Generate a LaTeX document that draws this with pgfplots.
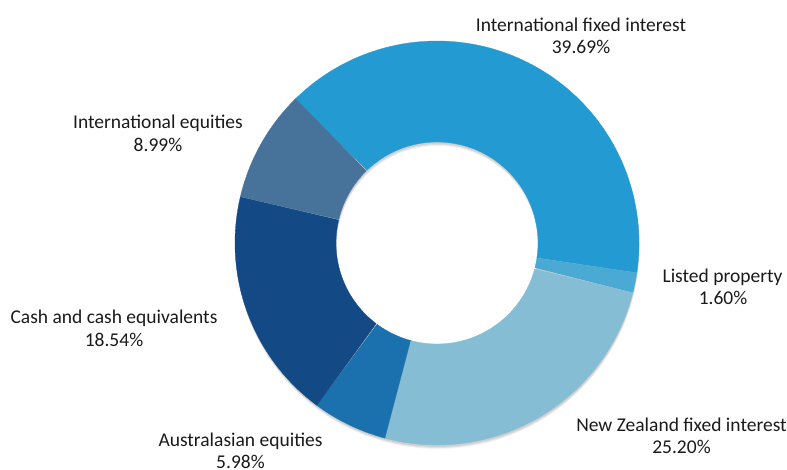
\documentclass[border=0pt]{standalone}
\usepackage{pgfplots}
\pgfplotsset{compat=1.18}
\usepackage{fontspec}
\setmainfont{Carlito}
\definecolor{cIF}{HTML}{239BD2}
\definecolor{cLP}{HTML}{4AAAD3}
\definecolor{cNZ}{HTML}{84BDD4}
\definecolor{cAU}{HTML}{1B71AD}
\definecolor{cCA}{HTML}{134A86}
\definecolor{cIE}{HTML}{47739B}
\definecolor{txt}{HTML}{1A1A1A}
% shares in percent
\def\pIF{39.69}
\def\pLP{1.60}
\def\pNZ{25.20}
\def\pAU{5.98}
\def\pCA{18.54}
\def\pIE{8.99}
\def\cx{437}
\def\cy{227}
\def\Ro{202}
\def\Ri{101}
\newcommand\slice[3]{%
  \addplot[fill=#3, draw=#3, line width=0.3pt, domain=0:2, samples=241, variable=\t]
   ({\cx + (\t<=1 ? \Ro : \Ri)*cos(\t<=1 ? #1+(#2-#1)*\t : #2-(#2-#1)*(\t-1))},
    {\cy + (\t<=1 ? \Ro : \Ri)*sin(\t<=1 ? #1+(#2-#1)*\t : #2-(#2-#1)*(\t-1))});}
\newcommand\shadow[3]{%
  \addplot[fill=black, fill opacity=#3, draw=none, domain=0:2, samples=241, variable=\t]
   ({\cx + #1 + (\t<=1 ? \Ro : \Ri)*cos(\t<=1 ? 360*\t : 360-360*(\t-1))},
    {\cy + #2 + (\t<=1 ? \Ro : \Ri)*sin(\t<=1 ? 360*\t : 360-360*(\t-1))});}
\begin{document}
\begin{tikzpicture}
\pgfmathsetmacro\aA{134.4}
\pgfmathsetmacro\aAx{\aA+0.6}
\pgfmathsetmacro\aB{\aA-3.6*\pIF}
\pgfmathsetmacro\aC{\aB-3.6*\pLP}
\pgfmathsetmacro\aD{\aC-3.6*\pNZ}
\pgfmathsetmacro\aE{\aD-3.6*\pAU}
\pgfmathsetmacro\aF{\aE-3.6*\pCA}
\pgfmathsetmacro\aG{\aF-3.6*\pIE}
\begin{axis}[at={(0,0)}, anchor=south west,
  scale only axis, width=787pt, height=470pt,
  xmin=0, xmax=787, ymin=0, ymax=470,
  hide axis, clip=false]
\shadow{0.5}{-4}{0.05}
\shadow{0.5}{-3}{0.07}
\shadow{0.3}{-2}{0.08}
\slice{\aB}{\aAx}{cIF}
\slice{\aC}{\aB}{cLP}
\slice{\aD}{\aC}{cNZ}
\slice{\aE}{\aD}{cAU}
\slice{\aF}{\aE}{cCA}
\slice{\aG}{\aF}{cIE}
\begin{scope}[every node/.style={anchor=base, text=txt, font=\fontsize{19.5}{22}\selectfont, inner sep=0pt}]
\node at (axis cs:581,438) {International fixed interest};
\node at (axis cs:581,416) {39.69\%};
\node at (axis cs:722.5,187) {Listed property};
\node at (axis cs:723,165) {1.60\%};
\node at (axis cs:681.5,38) {New Zealand fixed interest};
\node at (axis cs:681.5,16) {25.20\%};
\node at (axis cs:240.5,23) {Australasian equities};
\node at (axis cs:240.5,1) {5.98\%};
\node at (axis cs:114,146) {Cash and cash equivalents};
\node at (axis cs:114,123) {18.54\%};
\node at (axis cs:158,341) {International equities};
\node at (axis cs:158,318) {8.99\%};
\end{scope}
\end{axis}
\pgfresetboundingbox
\useasboundingbox (0,0) rectangle (787pt,470pt);
\end{tikzpicture}
\end{document}
